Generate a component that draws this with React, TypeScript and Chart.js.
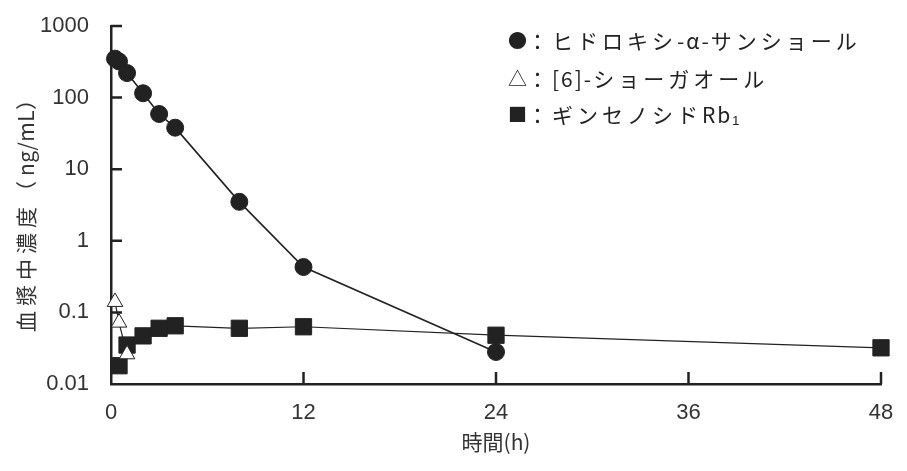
import { useEffect, useRef } from "react";
import { Chart, registerables } from "chart.js";

Chart.register(...registerables);

const hydroxyTimes = [0.25, 0.5, 1, 2, 3, 4, 8, 12, 24];
const hydroxyValues = [350, 320, 220, 115, 59, 38, 3.5, 0.43, 0.028];
const shogaolTimes = [0.25, 0.5, 1];
const shogaolValues = [0.14, 0.072, 0.026];
const ginsenosideTimes = [0.5, 1, 2, 3, 4, 8, 12, 24, 48];
const ginsenosideValues = [0.018, 0.035, 0.047, 0.06, 0.065, 0.06, 0.063, 0.048, 0.032];

const seriesLabels = ["ヒドロキシ-α-サンショール", "[6]-ショーガオール", "ギンセノシドRb₁"];
const legendGlyphs = ["●", "△", "■"];
const xTicks = [0, 12, 24, 36, 48];
const yTicks = [0.01, 0.1, 1, 10, 100, 1000];
const yTickLabels = ["0.01", "0.1", "1", "10", "100", "1000"];
const xTitle = "時間(h)";
const yTitle = "血漿中濃度（ng/mL）";

const INK = "#222";
const TEXT = "#333";
const FAMILY = '"Liberation Sans", "Noto Sans CJK JP", sans-serif';
const CJK = '"Noto Sans CJK JP", "Liberation Sans", sans-serif';

// draw text glyph by glyph, widening the full-width (CJK) glyphs more than the others
function gapFor(ch: string, cjkGap: number, latinGap: number) {
  return ch.charCodeAt(0) >= 0x3000 ? cjkGap : latinGap;
}
function spacedWidth(ctx: CanvasRenderingContext2D, text: string, cjkGap: number, latinGap: number) {
  let w = 0;
  for (const ch of Array.from(text)) w += ctx.measureText(ch).width + gapFor(ch, cjkGap, latinGap);
  return w;
}
function drawSpaced(ctx: CanvasRenderingContext2D, text: string, x: number, y: number, cjkGap: number, latinGap: number) {
  let cx = x;
  for (const ch of Array.from(text)) {
    ctx.fillText(ch, cx, y);
    cx += ctx.measureText(ch).width + gapFor(ch, cjkGap, latinGap);
  }
}

const inwardTicks = {
  id: "inwardTicks",
  beforeDatasetsDraw(chart: any) {
    const { ctx, chartArea } = chart;
    const xs = chart.scales.x;
    const ys = chart.scales.y;
    ctx.save();
    ctx.strokeStyle = INK;
    ctx.lineWidth = 2.5;
    ctx.beginPath();
    xTicks.forEach((v) => {
      if (v === xs.min) return;
      const px = xs.getPixelForValue(v);
      ctx.moveTo(px, chartArea.bottom);
      ctx.lineTo(px, chartArea.bottom - 12);
    });
    yTicks.forEach((v) => {
      if (v === ys.min) return;
      const py = ys.getPixelForValue(v);
      ctx.moveTo(chartArea.left, py);
      ctx.lineTo(chartArea.left + 11, py);
    });
    ctx.stroke();
    ctx.restore();
  },
};

const yTitlePlugin = {
  id: "yTitlePlugin",
  afterDraw(chart: any) {
    const { ctx, chartArea } = chart;
    ctx.save();
    ctx.translate(26, (chartArea.top + chartArea.bottom) / 2 + 3);
    ctx.rotate(-Math.PI / 2);
    ctx.font = `21px ${CJK}`;
    ctx.fillStyle = TEXT;
    ctx.textAlign = "left";
    ctx.textBaseline = "middle";
    const w = spacedWidth(ctx, yTitle, 5, 0.5);
    drawSpaced(ctx, yTitle, -w / 2, 0, 5, 0.5);
    ctx.restore();
  },
};

const legendPlugin = {
  id: "legendPlugin",
  afterDraw(chart: any) {
    const { ctx, chartArea } = chart;
    const left = chartArea.right - 374;
    const rows = [41, 79, 115];
    ctx.save();
    ctx.fillStyle = INK;
    ctx.textBaseline = "middle";
    ctx.textAlign = "left";
    seriesLabels.forEach((label, i) => {
      ctx.font = `19px ${CJK}`;
      ctx.fillText(legendGlyphs[i], left + 1, rows[i]);
      ctx.font = `21px ${CJK}`;
      drawSpaced(ctx, "：" + label, left + 20, rows[i], 4, 2);
    });
    ctx.restore();
  },
};

export default function App() {
  const ref = useRef<HTMLCanvasElement | null>(null);

  useEffect(() => {
    document.body.style.margin = "0";
    if (!ref.current) return;
    const pts = (ts: number[], vs: number[]) => ts.map((t, i) => ({ x: t, y: vs[i] }));
    const chart = new Chart(ref.current, {
      type: "line",
      data: {
        datasets: [
          {
            label: seriesLabels[0],
            data: pts(hydroxyTimes, hydroxyValues),
            borderColor: INK,
            backgroundColor: INK,
            borderWidth: 1.6,
            pointStyle: "circle",
            pointRadius: 8.5,
            pointBackgroundColor: INK,
            pointBorderColor: INK,
            pointBorderWidth: 1,
            clip: false,
            order: 1,
          },
          {
            label: seriesLabels[1],
            data: pts(shogaolTimes, shogaolValues),
            borderColor: INK,
            backgroundColor: "#fff",
            borderWidth: 1.2,
            pointStyle: "triangle",
            pointRadius: 9,
            pointBackgroundColor: "#fff",
            pointBorderColor: INK,
            pointBorderWidth: 1,
            clip: false,
            order: 0,
          },
          {
            label: seriesLabels[2],
            data: pts(ginsenosideTimes, ginsenosideValues),
            borderColor: INK,
            backgroundColor: INK,
            borderWidth: 1.2,
            pointStyle: "rect",
            pointRadius: 11.5,
            pointBackgroundColor: INK,
            pointBorderColor: INK,
            pointBorderWidth: 1,
            clip: false,
            order: 2,
          },
        ] as any,
      },
      options: {
        animation: false,
        responsive: false,
        layout: { padding: { top: 26, right: 26, left: 0, bottom: 0 } },
        plugins: {
          legend: { display: false },
          tooltip: { enabled: false },
        },
        scales: {
          x: {
            type: "linear",
            min: 0,
            max: 48,
            afterBuildTicks: (s: any) => {
              s.ticks = xTicks.map((v) => ({ value: v }));
            },
            afterFit: (s: any) => {
              s.height = 87;
              s.paddingLeft = 0;
              s.paddingRight = 0;
            },
            grid: { display: false, drawTicks: false },
            border: { display: true, color: INK, width: 2.5 },
            ticks: {
              color: TEXT,
              padding: 16,
              font: { size: 22, family: FAMILY },
              maxRotation: 0,
              autoSkip: false,
            },
            title: {
              display: true,
              text: xTitle,
              color: TEXT,
              font: { size: 21, family: CJK },
              padding: { top: 0, bottom: 16 },
            },
          },
          y: {
            type: "logarithmic",
            min: 0.01,
            max: 1000,
            afterBuildTicks: (s: any) => {
              s.ticks = yTicks.map((v) => ({ value: v }));
            },
            afterFit: (s: any) => {
              s.width = 111;
              s.paddingTop = 0;
              s.paddingBottom = 0;
            },
            grid: { display: false, drawTicks: false },
            border: { display: true, color: INK, width: 2.5 },
            ticks: {
              color: TEXT,
              padding: 22,
              font: { size: 22, family: FAMILY },
              autoSkip: false,
              callback: (v: any) => {
                const i = yTicks.indexOf(Number(v));
                return i >= 0 ? yTickLabels[i] : "";
              },
            },
            title: { display: false },
          },
        },
      },
      plugins: [inwardTicks, yTitlePlugin, legendPlugin],
    });
    return () => chart.destroy();
  }, []);

  return <canvas ref={ref} width={907} height={471} style={{ display: "block" }} />;
}
